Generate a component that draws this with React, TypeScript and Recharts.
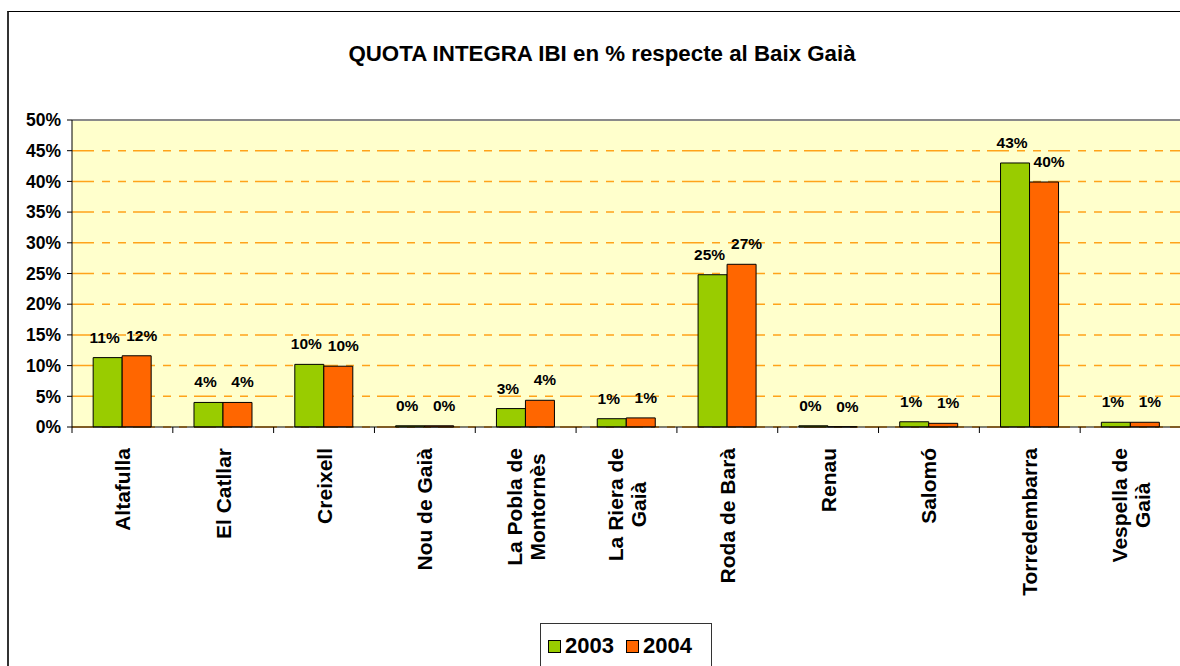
import React from "react";
import {Bar, BarChart, CartesianGrid, LabelList, Legend, ReferenceLine, XAxis, YAxis} from "recharts";

const FONT = '"Liberation Sans", Arial, sans-serif';

// municipis (els salts de línia com a l'original)
const categories = [
    'Altafulla',
    'El Catllar',
    'Creixell',
    'Nou de Gaià',
    'La Pobla de\nMontornès',
    'La Riera de\nGaià',
    'Roda de Barà',
    'Renau',
    'Salomó',
    'Torredembarra',
    'Vespella de\nGaià',
];
const values2003 = [0.113, 0.040, 0.102, 0.002, 0.030, 0.0135, 0.248, 0.002, 0.0085, 0.430, 0.0077];
const values2004 = [0.116, 0.040, 0.099, 0.002, 0.0435, 0.0148, 0.265, 0.0004, 0.006, 0.399, 0.0077];
const yTicks = [0, 0.05, 0.1, 0.15, 0.2, 0.25, 0.3, 0.35, 0.4, 0.45, 0.5];
const seriesNames = ['2003', '2004'];

const green = '#99CC00';
const orange = '#FF6600';

const data = categories.map((name, i) => ({
    name,
    y2003: values2003[i],
    y2004: values2004[i],
}));

const CHART_W = 1185;
const MARGIN = {top: 120, right: 4, left: 0, bottom: 0};
const Y_W = 72;
const band = (CHART_W - MARGIN.left - MARGIN.right - Y_W) / categories.length;

let ctx: CanvasRenderingContext2D | null = null;
const measure = (s: string) => {
    if (!ctx) ctx = document.createElement('canvas').getContext('2d');
    if (!ctx) return s.length * 10.7;
    ctx.font = `bold 21px ${FONT}`;
    return ctx.measureText(s).width;
};

const CategoryTick = (props: any) => {
    const {x, y, payload} = props;
    const lines: string[] = String(payload.value).split('\n');
    const longest = Math.max(...lines.map(measure));
    const cy = y + 21 + longest / 2;
    const left = x - band / 2;
    return (
        <g>
            <line x1={left} y1={y} x2={left} y2={y + 6} stroke="#000" />
            {lines.map((l, i) => {
                const lx = x + (i - (lines.length - 1) / 2) * 23;
                return (
                    <text key={i} x={lx} y={cy} dy="0.36em" textAnchor="middle"
                          transform={`rotate(-90, ${lx}, ${cy})`}
                          fontFamily={FONT} fontWeight="bold" fontSize={21} fill="#000">
                        {l}
                    </text>
                );
            })}
        </g>
    );
};

const LegendBox = () => (
    <div style={{
        boxSizing: 'border-box', width: 172, height: 60, border: '1px solid #333', background: '#fff',
        display: 'flex', alignItems: 'flex-start', paddingTop: 11, paddingLeft: 7,
        fontFamily: FONT, fontWeight: 'bold', fontSize: 22, color: '#000', lineHeight: '22px',
    }}>
        {seriesNames.map((s, i) => (
            <div key={s} style={{display: 'flex', alignItems: 'center', marginRight: 12}}>
                <span style={{
                    display: 'inline-block', width: 11, height: 11, border: '1px solid #000',
                    background: i === 0 ? green : orange, marginRight: 4,
                }}/>
                <span>{s}</span>
            </div>
        ))}
    </div>
);

const pct = (v: any) => `${Math.round(Number(v) * 100)}%`;

// etiqueta de dades, una mica desplaçada com fa l'Excel
const makeLabel = (dx: number) => (p: any) => (
    <text x={Number(p.x) + Number(p.width) / 2 + dx} y={Number(p.y) - 15} textAnchor="middle"
          fontFamily={FONT} fontWeight="bold" fontSize={15.5} fill="#000">
        {pct(p.value)}
    </text>
);

export default function App() {
    return (
        <div style={{position: 'absolute', left: 0, top: 0, width: 1180, height: 666, overflow: 'hidden', background: '#fff'}}>
            <div style={{
                position: 'absolute', left: 7, top: 11, width: 1200, height: 700,
                borderTop: '1px solid #000', borderLeft: '2px solid #333',
            }}/>
            <div style={{
                position: 'absolute', left: 0, width: 1204, top: 41, textAlign: 'center',
                fontFamily: FONT, fontWeight: 'bold', fontSize: 22.3, color: '#000', whiteSpace: 'nowrap',
            }}>
                QUOTA INTEGRA IBI en % respecte al Baix Gaià
            </div>
            <div style={{position: 'absolute', left: 0, top: 0}}>
                <BarChart width={CHART_W} height={666} data={data} margin={MARGIN}
                          barGap={0} barCategoryGap="21%">
                    <CartesianGrid vertical={false} fill="#FFFFCC" stroke="#FFA31A" strokeWidth={1.5}
                                   strokeDasharray="22 8 8 8 8 7"/>
                    <ReferenceLine y={0.5} stroke="#8A8A8A" strokeWidth={2}/>
                    <YAxis domain={[0, 0.5]} ticks={yTicks} width={Y_W} tickFormatter={pct}
                           tickSize={5} tickMargin={6} interval={0}
                           axisLine={{stroke: '#000'}} tickLine={{stroke: '#000'}}
                           tick={{fill: '#000', fontFamily: FONT, fontWeight: 'bold', fontSize: 17.5}}/>
                    <XAxis dataKey="name" height={239} interval={0} tickSize={0} tickMargin={0}
                           axisLine={{stroke: '#000'}} tickLine={false} tick={<CategoryTick/>}/>
                    <Legend layout="horizontal" verticalAlign="middle" align="center"
                            wrapperStyle={{left: 540, top: 623, width: 172, height: 60}}
                            content={<LegendBox/>}/>
                    <Bar dataKey="y2003" name="2003" fill={green} stroke="#000" strokeWidth={1} isAnimationActive={false}>
                        <LabelList dataKey="y2003" content={makeLabel(-3)}/>
                    </Bar>
                    <Bar dataKey="y2004" name="2004" fill={orange} stroke="#000" strokeWidth={1} isAnimationActive={false}>
                        <LabelList dataKey="y2004" content={makeLabel(5)}/>
                    </Bar>
                </BarChart>
            </div>
        </div>
    );
}
